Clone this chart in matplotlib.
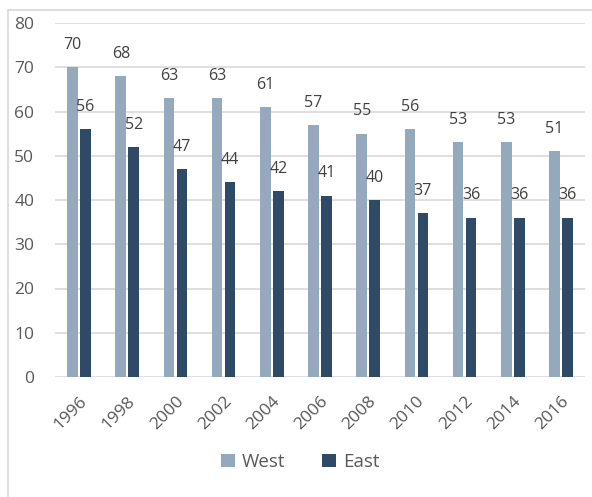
import numpy as np
import matplotlib.pyplot as plt
from matplotlib.lines import Line2D

years = ['1996', '1998', '2000', '2002', '2004', '2006', '2008', '2010', '2012', '2014', '2016']
west = [70, 68, 63, 63, 61, 57, 55, 56, 53, 53, 51]
east = [56, 52, 47, 44, 42, 41, 40, 37, 36, 36, 36]

col_west = '#94A9BC'
col_east = '#2E4A66'
txt = '#595959'

plt.rcParams['font.family'] = ['Open Sans', 'DejaVu Sans']

fig = plt.figure(figsize=(5.92, 4.97), dpi=100)
W, H = 592, 497
ax = fig.add_axes([55 / W, 1 - 377 / H, 530 / W, 354 / H])

x = np.arange(len(years))
w = 0.22
b1 = ax.bar(x - 0.135, west, w, color=col_west, zorder=3, label='West')
b2 = ax.bar(x + 0.135, east, w, color=col_east, zorder=3, label='East')

for xi, v in zip(x, west):
    ax.annotate(str(v), (xi - 0.135, v), xytext=(0, 16), textcoords='offset points',
                ha='center', va='center', fontsize=11.5, color='#404040')
for xi, v in zip(x, east):
    ax.annotate(str(v), (xi + 0.135, v), xytext=(0, 16), textcoords='offset points',
                ha='center', va='center', fontsize=11.5, color='#404040')

ax.set_xlim(-0.5, len(years) - 0.5)
ax.set_ylim(0, 80)
ax.set_yticks(range(0, 81, 10))
ax.yaxis.grid(True, color='#D9D9D9', linewidth=1.2, zorder=0)
for s in ax.spines.values():
    s.set_visible(False)
ax.tick_params(axis='both', length=0, labelsize=12.5, labelcolor=txt)
ax.tick_params(axis='y', pad=15)
ax.set_xticks(x)
ax.set_xticklabels(years, rotation=45, ha='right', rotation_mode='anchor')
ax.tick_params(axis='x', pad=12)

fig.legend(handles=[b1, b2], labels=['West', 'East'], loc='center',
           bbox_to_anchor=(300 / W, 1 - 462 / H), ncol=2, frameon=False,
           fontsize=13.5, labelcolor=txt, handlelength=0.75, handleheight=0.75,
           handletextpad=0.35, columnspacing=2.0)

fig.add_artist(Line2D([8 / W, 8 / W], [0, 1 - 10 / H], color='#D9D9D9', linewidth=1.2))
fig.add_artist(Line2D([8 / W, 1], [1 - 10 / H, 1 - 10 / H], color='#D9D9D9', linewidth=1.2))

fig.savefig('out.png', dpi=100)
